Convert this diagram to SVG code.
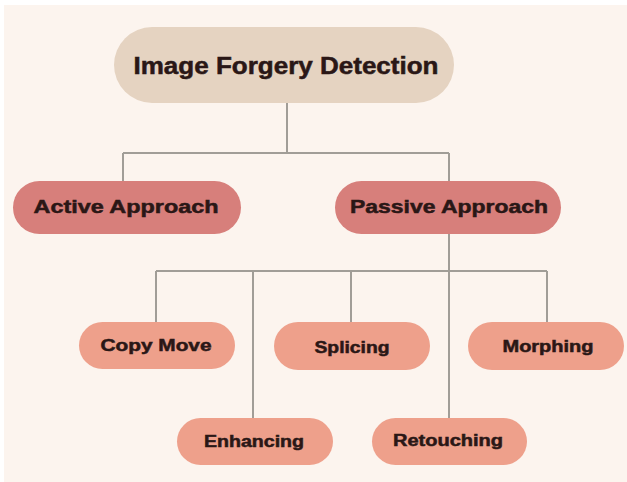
<svg xmlns="http://www.w3.org/2000/svg" width="627" height="482" viewBox="0 0 627 482">
  <style>
    .bg { fill: #fcf4ee; }
    .link { fill: none; stroke: #a19d97; stroke-width: 2; }
    .root rect { fill: #e5d3c1; }
    .mid rect { fill: #d77f7b; }
    .leaf rect { fill: #eea08b; }
    text { font-family: "Liberation Sans", Arial, sans-serif; font-weight: bold; fill: #2a1716; stroke: #2a1716; stroke-width: 0.5; text-anchor: middle; dominant-baseline: central; }
    .root text { font-size: 23px; }
    .mid text { font-size: 18px; }
    .leaf text { font-size: 16px; }
  </style>
  <rect x="0" y="0" width="627" height="482" fill="#ffffff"/>
  <rect class="bg" x="4" y="5" width="623" height="477"/>

  <g id="connectors">
    <path class="link" d="M287 103 V153 M123 153 H449 M123 153 V182 M449 153 V182"/>
    <path class="link" d="M449 233 V419 M156 271 H547 M156 271 V323 M253 271 V419 M351 271 V323 M547 271 V323"/>
  </g>

  <g id="image-forgery-detection" class="root">
    <rect x="114" y="27" width="340" height="76" rx="38"/>
    <text x="286" y="66" textLength="305" lengthAdjust="spacingAndGlyphs">Image Forgery Detection</text>
  </g>

  <g id="active-approach" class="mid">
    <rect x="13" y="181" width="228" height="53" rx="26.5"/>
    <text x="126" y="207" textLength="185" lengthAdjust="spacingAndGlyphs">Active Approach</text>
  </g>
  <g id="passive-approach" class="mid">
    <rect x="335" y="181" width="226" height="53" rx="26.5"/>
    <text x="449" y="207" textLength="198" lengthAdjust="spacingAndGlyphs">Passive Approach</text>
  </g>

  <g id="copy-move" class="leaf">
    <rect x="79" y="322" width="156" height="47" rx="23.5"/>
    <text x="156" y="345" textLength="111" lengthAdjust="spacingAndGlyphs">Copy Move</text>
  </g>
  <g id="splicing" class="leaf">
    <rect x="274" y="322" width="156" height="48" rx="24"/>
    <text x="352" y="347" textLength="75" lengthAdjust="spacingAndGlyphs">Splicing</text>
  </g>
  <g id="morphing" class="leaf">
    <rect x="468" y="322" width="156" height="48" rx="24"/>
    <text x="548" y="346" textLength="91" lengthAdjust="spacingAndGlyphs">Morphing</text>
  </g>
  <g id="enhancing" class="leaf">
    <rect x="177" y="418" width="156" height="47" rx="23.5"/>
    <text x="254" y="441" textLength="100" lengthAdjust="spacingAndGlyphs">Enhancing</text>
  </g>
  <g id="retouching" class="leaf">
    <rect x="372" y="418" width="155" height="47" rx="23.5"/>
    <text x="448" y="440" textLength="110" lengthAdjust="spacingAndGlyphs">Retouching</text>
  </g>
</svg>
